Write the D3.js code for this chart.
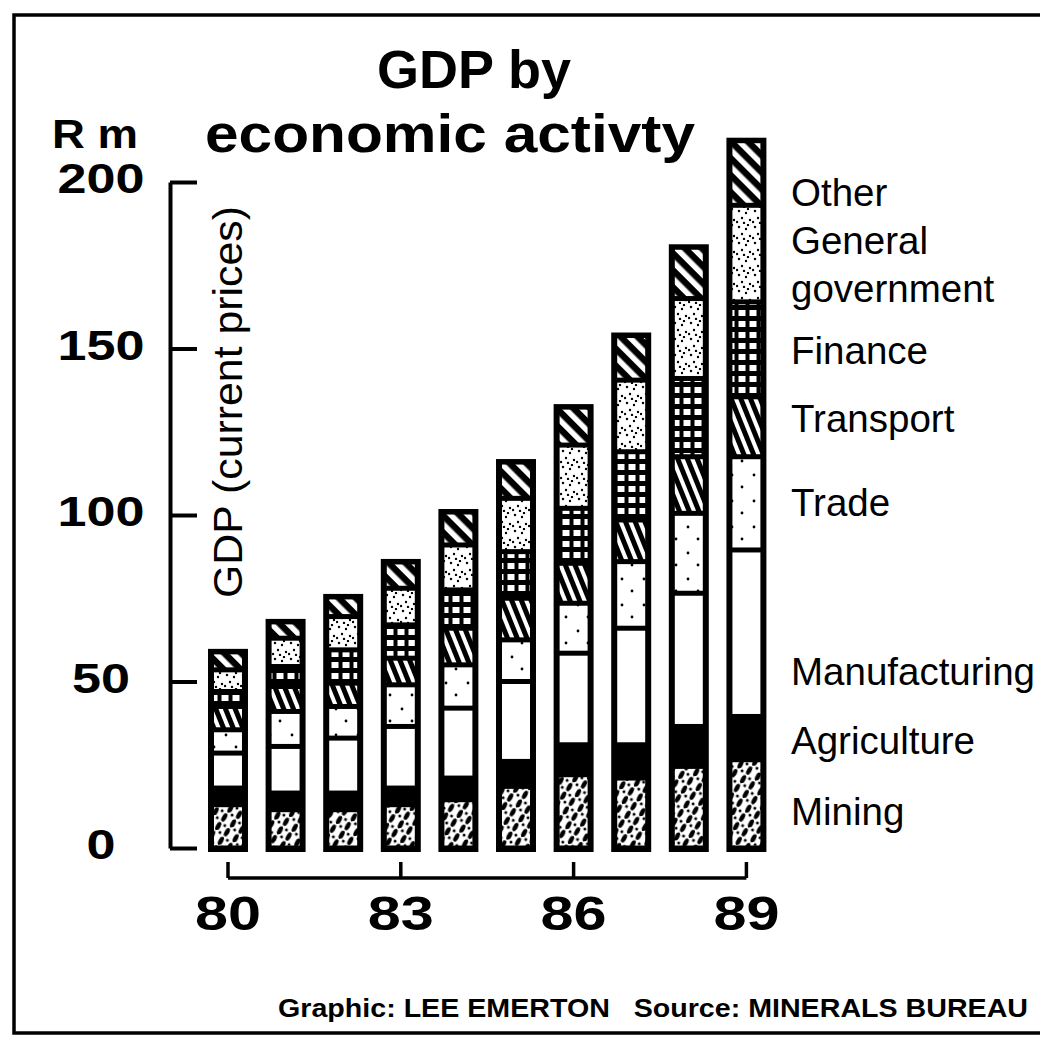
<!DOCTYPE html>
<html><head><meta charset="utf-8">
<script src="https://cdn.jsdelivr.net/npm/d3@7"></script>
<style>
html,body{margin:0;padding:0;background:#fff;}
svg{display:block;}
text{font-family:"Liberation Sans",Arial,Helvetica,sans-serif;fill:#000;}
</style></head>
<body>
<svg id="chart" width="1040" height="1044"></svg>
<script>
// ---------- DATA ----------
const years = ["80","81","82","83","84","85","86","87","88","89"];
const mining            = [13, 11.5, 11.5, 13, 14.5, 18.5, 22, 21, 24.5, 26.5];
const agriculture       = [5, 5, 5, 5, 6.5, 7.5, 9, 10, 12, 13];
const manufacturing     = [10.5, 14, 16.5, 18.5, 21, 24, 27.5, 35, 40, 50];
const trade             = [7, 10.5, 9.5, 12.5, 13, 12.5, 15, 20, 24, 28];
const transport         = [7, 7.5, 7, 8, 11, 12.5, 12, 12.5, 17, 18];
const finance           = [4.5, 6, 10, 10, 11.5, 14, 16.5, 20.5, 23.5, 28.5];
const generalGovernment = [6.5, 8.5, 10, 11, 13.5, 16, 19, 21.5, 24, 29];
const other             = [6, 5.5, 6.5, 8.5, 10.5, 11.5, 12, 14, 16, 20];
const seriesKeys  = ["Mining","Agriculture","Manufacturing","Trade","Transport","Finance","General government","Other"];
const seriesData  = [mining, agriculture, manufacturing, trade, transport, finance, generalGovernment, other];
const yTicks = [0, 50, 100, 150, 200];
const xTicks = ["80","83","86","89"];
const titleLines = ["GDP by", "economic activty"];
const unitLabel = "R m";
const yTitle = "GDP (current prices)";
const credit = "Graphic: LEE EMERTON   Source: MINERALS BUREAU";
// legend text lines and the value (in R m, on the 1989 bar scale) they sit at
const legendLines = [
  {text:"Other", at:197},
  {text:"General", at:182.5},
  {text:"government", at:168},
  {text:"Finance", at:149.5},
  {text:"Transport", at:129},
  {text:"Trade", at:104},
  {text:"Manufacturing", at:53},
  {text:"Agriculture", at:32.5},
  {text:"Mining", at:11}
];

// ---------- TABLE ----------
const table = years.map((yr,i)=>{
  const row = {year: yr};
  seriesKeys.forEach((k,j)=> row[k] = seriesData[j][i]);
  return row;
});

// ---------- LAYOUT ----------
const svg = d3.select("#chart");
const y = d3.scaleLinear().domain([0,200]).range([848,182]);
const x = d3.scaleBand().domain(years).range([208, 766.4]).paddingInner(0.306).paddingOuter(0);

// frame
svg.append("rect").attr("x",14).attr("y",15).attr("width",1040).attr("height",1018)
  .attr("fill","none").attr("stroke","#000").attr("stroke-width",3.5);

// ---------- PATTERNS ----------
const defs = svg.append("defs");
// Mining: white with black slanted blobs
let p = defs.append("pattern").attr("id","pMining").attr("patternUnits","userSpaceOnUse")
  .attr("width",15).attr("height",15).attr("patternTransform","rotate(-10)");
p.append("rect").attr("width",15).attr("height",15).attr("fill","#fff");
p.append("ellipse").attr("cx",4).attr("cy",4).attr("rx",4.6).attr("ry",2.3).attr("transform","rotate(-50 4 4)");
p.append("ellipse").attr("cx",11.5).attr("cy",11.5).attr("rx",4.6).attr("ry",2.3).attr("transform","rotate(-50 11.5 11.5)");
p.append("circle").attr("cx",12).attr("cy",3).attr("r",1.5);
p.append("circle").attr("cx",3).attr("cy",12).attr("r",1.5);
// Trade: white, sparse dots
p = defs.append("pattern").attr("id","pTrade").attr("patternUnits","userSpaceOnUse").attr("width",22).attr("height",26);
p.append("rect").attr("width",22).attr("height",26).attr("fill","#fff");
p.append("circle").attr("cx",6).attr("cy",7).attr("r",1.4);
p.append("circle").attr("cx",16).attr("cy",19).attr("r",1.4);
// Transport: steep white stripes on black
p = defs.append("pattern").attr("id","pTransport").attr("patternUnits","userSpaceOnUse")
  .attr("width",9).attr("height",9).attr("patternTransform","rotate(-22)");
p.append("rect").attr("width",9).attr("height",9).attr("fill","#000");
p.append("rect").attr("x",0).attr("width",4).attr("height",9).attr("fill","#fff");
// Finance: white blocks on black
p = defs.append("pattern").attr("id","pFinance").attr("patternUnits","userSpaceOnUse").attr("width",11).attr("height",11);
p.append("rect").attr("width",11).attr("height",11).attr("fill","#000");
p.append("rect").attr("x",1.5).attr("y",2).attr("width",7).attr("height",6).attr("fill","#fff");
// General government: dense speckles
p = defs.append("pattern").attr("id","pGov").attr("patternUnits","userSpaceOnUse").attr("width",16).attr("height",16);
p.append("rect").attr("width",16).attr("height",16).attr("fill","#fff");
[[3,3],[10,5],[6,10],[14,12],[1,14],[12,1],[8,15]].forEach(c=>p.append("circle").attr("cx",c[0]).attr("cy",c[1]).attr("r",1.2));
// Other: 45deg white stripes on black
p = defs.append("pattern").attr("id","pOther").attr("patternUnits","userSpaceOnUse")
  .attr("width",12).attr("height",12).attr("patternTransform","rotate(-45)");
p.append("rect").attr("width",12).attr("height",12).attr("fill","#000");
p.append("rect").attr("x",0).attr("width",5.5).attr("height",12).attr("fill","#fff");

const fills = {
  "Mining":"url(#pMining)", "Agriculture":"#000", "Manufacturing":"#fff", "Trade":"url(#pTrade)",
  "Transport":"url(#pTransport)", "Finance":"url(#pFinance)", "General government":"url(#pGov)", "Other":"url(#pOther)"
};

// ---------- BARS ----------
const stack = d3.stack().keys(seriesKeys)(table);
const totals = table.map(r => d3.sum(seriesKeys, k => r[k]));
const bars = svg.append("g");
bars.selectAll("rect.outer").data(table).join("rect").attr("class","outer")
  .attr("x", d=>x(d.year)).attr("width", x.bandwidth())
  .attr("y", (d,i)=> y(totals[i]) - 1).attr("height",(d,i)=> y(0) - y(totals[i]) + 5)
  .attr("fill","#000");
const border = 6, gap = 2.5;
stack.forEach(s=>{
  bars.append("g").selectAll("rect").data(s).join("rect")
    .attr("x", d=> x(d.data.year) + border)
    .attr("width", x.bandwidth() - 2*border)
    .attr("y", d=> y(d[1]) + gap + (s.key==="Other"?2:0))
    .attr("height", d=> Math.max(0, y(d[0]) - y(d[1]) - 2*gap - (s.key==="Other"?2:0)))
    .attr("fill", fills[s.key]);
});

// ---------- Y AXIS ----------
const yAxis = d3.axisRight(y).tickValues(yTicks).tickSize(27).tickSizeOuter(0).tickFormat("");
const ya = svg.append("g").attr("transform","translate(170,0)").call(yAxis);
ya.select(".domain").attr("stroke","#000").attr("stroke-width",4);
ya.selectAll(".tick line").attr("stroke","#000").attr("stroke-width",4);
svg.append("g").selectAll("text").data(yTicks).join("text")
  .attr("x",101).attr("y", d=> y(d) + 11).attr("text-anchor","middle")
  .attr("font-size",42).attr("font-weight","bold")
  .attr("textLength", d=> String(d).length*29).attr("lengthAdjust","spacingAndGlyphs")
  .text(d=>d);
svg.append("text").attr("x",52).attr("y",148).attr("font-size",40).attr("font-weight","bold")
  .attr("textLength",86).attr("lengthAdjust","spacingAndGlyphs").text(unitLabel);
svg.append("text").attr("transform","translate(242,402) rotate(-90)").attr("text-anchor","middle")
  .attr("font-size",41).attr("textLength",392).attr("lengthAdjust","spacingAndGlyphs").text(yTitle);

// ---------- X AXIS ----------
const xa = svg.append("g").attr("transform","translate(0,878)");
xa.append("line").attr("x1", x("80")+x.bandwidth()/2).attr("x2", x("89")+x.bandwidth()/2)
  .attr("stroke","#000").attr("stroke-width",3.5);
xa.selectAll("line.t").data(xTicks).join("line").attr("class","t")
  .attr("x1", d=>x(d)+x.bandwidth()/2).attr("x2", d=>x(d)+x.bandwidth()/2)
  .attr("y1",0).attr("y2",-16).attr("stroke","#000").attr("stroke-width",3.5);
svg.append("g").selectAll("text").data(xTicks).join("text")
  .attr("x", d=>x(d)+x.bandwidth()/2).attr("y",930).attr("text-anchor","middle")
  .attr("font-size",48).attr("font-weight","bold")
  .attr("textLength",66).attr("lengthAdjust","spacingAndGlyphs").text(d=>d);

// ---------- TITLE ----------
svg.append("text").attr("x",474).attr("y",88).attr("text-anchor","middle")
  .attr("font-size",54).attr("font-weight","bold").text(titleLines[0]);
svg.append("text").attr("x",205).attr("y",152)
  .attr("font-size",54).attr("font-weight","bold")
  .attr("textLength",490).attr("lengthAdjust","spacingAndGlyphs").text(titleLines[1]);

// ---------- LEGEND LABELS ----------
svg.append("g").selectAll("text").data(legendLines).join("text")
  .attr("x",791).attr("y", d=> y(d.at)).attr("dy","0.36em")
  .attr("font-size",38.5).text(d=>d.text);

// ---------- CREDIT ----------
svg.append("text").attr("x",278).attr("y",1017).attr("font-size",26).attr("font-weight","bold")
  .attr("textLength",750).attr("lengthAdjust","spacingAndGlyphs").attr("xml:space","preserve").text(credit);
</script>
</body></html>
